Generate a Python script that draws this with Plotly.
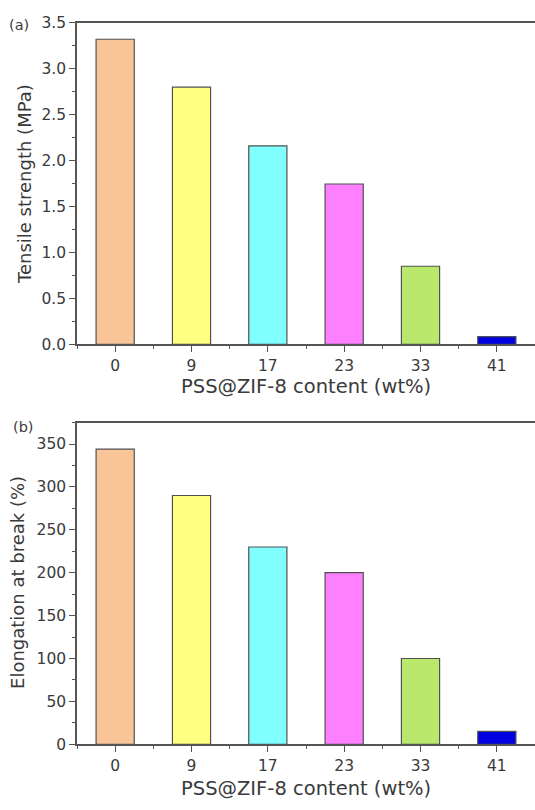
import plotly.graph_objects as go

categories = ["0", "9", "17", "23", "33", "41"]
tensile_strength = [3.32, 2.80, 2.16, 1.745, 0.85, 0.085]
elongation = [344, 290, 230, 200, 100, 15]
bar_colors = ["#F9C598", "#FFFF80", "#80FFFF", "#FF80FF", "#B9E86C", "#0000E0"]

x_idx = list(range(len(categories)))
H, W = 810, 535
FONT = "DejaVu Sans, Verdana, sans-serif"
TXT = "#3a3a3a"
AX = "#555555"

fig = go.Figure()
fig.add_trace(go.Bar(x=x_idx, y=tensile_strength, width=0.5,
                     marker=dict(color=bar_colors, line=dict(color="#505050", width=1.2)),
                     xaxis="x", yaxis="y", showlegend=False))
fig.add_trace(go.Bar(x=x_idx, y=elongation, width=0.5,
                     marker=dict(color=bar_colors, line=dict(color="#505050", width=1.2)),
                     xaxis="x2", yaxis="y2", showlegend=False))

def py(p):
    return 1 - p / H

xdom = [77 / W, 1.0]
common_x = dict(range=[-0.5, 5.5], tickmode="array", tickvals=x_idx, ticktext=categories,
                showline=True, linecolor=AX, linewidth=1.5, mirror=True,
                ticks="outside", ticklen=6, tickwidth=1.2, tickcolor=AX,
                minor=dict(tick0=0.5, dtick=1, ticks="outside", ticklen=3, tickcolor=AX, tickwidth=1.2),
                showgrid=False, zeroline=False, fixedrange=True,
                tickfont=dict(family=FONT, size=15.5, color=TXT), domain=xdom)
common_y = dict(showline=True, linecolor=AX, linewidth=1.5, mirror=False,
                ticks="outside", ticklen=6, tickwidth=1.2, tickcolor=AX,
                showgrid=False, zeroline=False, fixedrange=True,
                tickfont=dict(family=FONT, size=15.5, color=TXT))

fig.update_layout(
    width=W, height=H, margin=dict(l=0, r=0, t=0, b=0),
    paper_bgcolor="white", plot_bgcolor="white", bargap=0.5,
    xaxis=dict(common_x, anchor="y"),
    yaxis=dict(common_y, anchor="x", domain=[py(343), py(14)], range=[0, 3.5],
               tickvals=[0, 0.5, 1.0, 1.5, 2.0, 2.5, 3.0, 3.5],
               ticktext=["0.0", "0.5", "1.0", "1.5", "2.0", "2.5", "3.0", "3.5"],
               minor=dict(tick0=0, dtick=0.25, ticks="outside", ticklen=3, tickcolor=AX, tickwidth=1.2)),
    xaxis2=dict(common_x, anchor="y2"),
    yaxis2=dict(common_y, anchor="x2", domain=[py(752), py(423)], range=[0, 375],
                tickvals=[0, 50, 100, 150, 200, 250, 300, 350],
                minor=dict(tick0=0, dtick=25, ticks="outside", ticklen=3, tickcolor=AX, tickwidth=1.2)),
)

xt_font = dict(family=FONT, size=19.5, color=TXT)
yt_font = dict(family=FONT, size=18, color=TXT)
anns = [
    dict(text="PSS@ZIF-8 content (wt%)", x=306 / W, y=py(386), font=xt_font),
    dict(text="PSS@ZIF-8 content (wt%)", x=306 / W, y=py(797), font=xt_font),
    dict(text="Tensile strength (MPa)", x=24 / W, y=py(179), textangle=-90, font=yt_font),
    dict(text="Elongation at break (%)", x=18 / W, y=py(587), textangle=-90, font=yt_font),
    dict(text="(a)", x=19 / W, y=py(16), font=dict(family=FONT, size=14.5, color=TXT)),
    dict(text="(b)", x=24 / W, y=py(427), font=dict(family=FONT, size=14.5, color=TXT)),
]
for a in anns:
    a.update(xref="paper", yref="paper", showarrow=False, xanchor="center", yanchor="middle")
fig.update_layout(annotations=anns)

fig.write_html("out.html")
